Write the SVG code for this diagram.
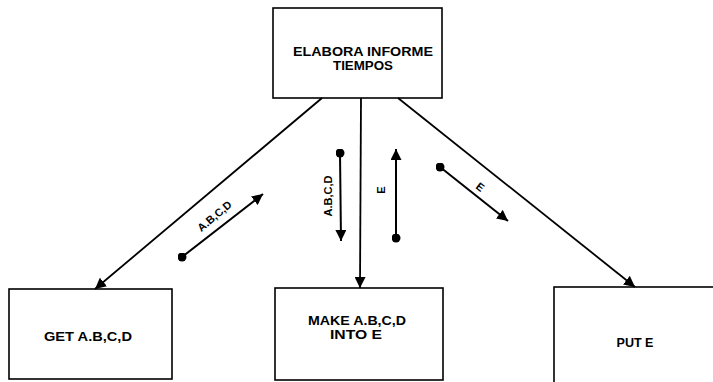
<svg xmlns="http://www.w3.org/2000/svg" width="713" height="382" viewBox="0 0 713 382">
<style>
.box{fill:#fff;stroke:#000;stroke-width:1.6}
.ln{stroke:#000;stroke-width:1.8;fill:none}
.fl{stroke:#000;stroke-width:2;fill:none}
.t{font-family:"Liberation Sans",Arial,sans-serif;font-weight:bold;font-size:13px;fill:#000;text-anchor:middle}
.s{font-family:"Liberation Sans",Arial,sans-serif;font-weight:bold;font-size:11px;fill:#000;text-anchor:middle}
</style>
<defs>
<marker id="ah" viewBox="0 0 10 10" refX="10" refY="5" markerWidth="11" markerHeight="11" markerUnits="userSpaceOnUse" orient="auto">
<path d="M0,0 L10,5 L0,10 Z" fill="#000"/>
</marker>
<marker id="dot" viewBox="0 0 10 10" refX="5" refY="5" markerWidth="9" markerHeight="9" markerUnits="userSpaceOnUse">
<circle cx="5" cy="5" r="5" fill="#000"/>
</marker>
</defs>
<g id="n-elabora">
<rect class="box" x="273" y="8" width="169" height="90"/>
<text class="t" x="363" y="56" textLength="140" lengthAdjust="spacingAndGlyphs">ELABORA INFORME</text>
<text class="t" x="363" y="70" textLength="60" lengthAdjust="spacingAndGlyphs">TIEMPOS</text>
</g>
<g id="n-get">
<rect class="box" x="9" y="289" width="163" height="90"/>
<text class="t" x="88" y="341" textLength="88" lengthAdjust="spacingAndGlyphs">GET A.B,C,D</text>
</g>
<g id="n-make">
<rect class="box" x="275" y="288" width="168" height="92"/>
<text class="t" x="357" y="325" textLength="98" lengthAdjust="spacingAndGlyphs">MAKE A.B,C,D</text>
<text class="t" x="356" y="339" textLength="52" lengthAdjust="spacingAndGlyphs">INTO E</text>
</g>
<g id="n-put">
<rect class="box" x="554" y="287" width="170" height="110"/>
<text class="t" x="635" y="347" textLength="37" lengthAdjust="spacingAndGlyphs">PUT E</text>
</g>
<g id="connectors">
<line class="ln" x1="322" y1="98" x2="95" y2="289" marker-end="url(#ah)"/>
<line class="ln" x1="361" y1="98" x2="360" y2="288" marker-end="url(#ah)"/>
<line class="ln" x1="398" y1="98" x2="635" y2="287" marker-end="url(#ah)"/>
<line class="fl" x1="182" y1="257" x2="263" y2="194" marker-start="url(#dot)" marker-end="url(#ah)"/>
<line class="fl" x1="340" y1="153" x2="341" y2="241" marker-start="url(#dot)" marker-end="url(#ah)"/>
<line class="fl" x1="396" y1="238" x2="396" y2="149" marker-start="url(#dot)" marker-end="url(#ah)"/>
<line class="fl" x1="440" y1="167" x2="508" y2="221" marker-start="url(#dot)" marker-end="url(#ah)"/>
<text class="s" transform="translate(217,219) rotate(-40)">A.B,C,D</text>
<text class="s" transform="translate(332,196) rotate(-90)">A.B,C,D</text>
<text class="s" transform="translate(385,190) rotate(-90)">E</text>
<text class="s" transform="translate(478,190) rotate(38)">E</text>
</g>
</svg>
